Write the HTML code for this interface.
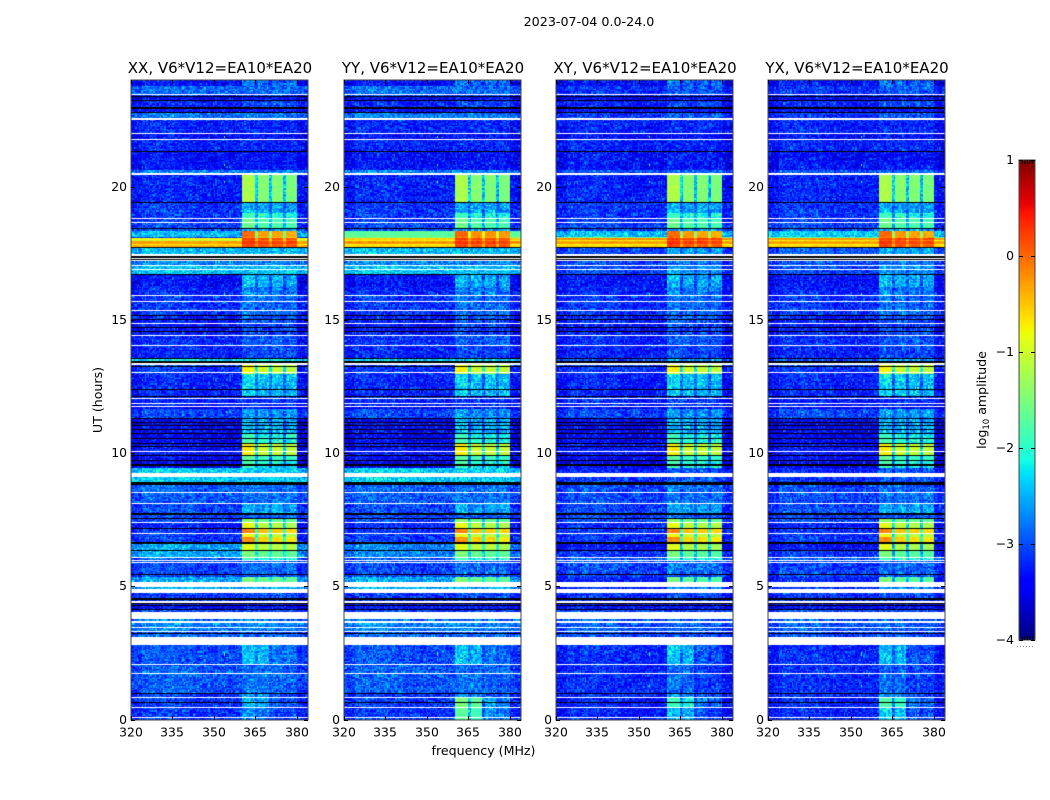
<!DOCTYPE html>
<html>
<head>
<meta charset="utf-8">
<title>2023-07-04 0.0-24.0</title>
<style>
html,body{margin:0;padding:0;background:#fff;width:1050px;height:800px;overflow:hidden}
#figure{position:relative;width:1050px;height:800px}
canvas{position:absolute;display:block}
svg{position:absolute;left:0;top:0}
text{font-family:"DejaVu Sans","Liberation Sans",sans-serif;fill:#000}
.tick{font-size:12.4px}
.title{font-size:15px;text-anchor:middle}
.label{font-size:12.6px;text-anchor:middle}
</style>
</head>
<body>
<div id="figure">
<canvas id="panel0" width="177" height="640" style="left:131px;top:80px"></canvas>
<canvas id="panel1" width="177" height="640" style="left:344px;top:80px"></canvas>
<canvas id="panel2" width="177" height="640" style="left:556px;top:80px"></canvas>
<canvas id="panel3" width="177" height="640" style="left:768px;top:80px"></canvas>
<canvas id="cbar" width="16" height="480" style="left:1019px;top:160px"></canvas>
<svg id="overlay" width="1050" height="800">
<text x="589" y="26" style="font-size:12.7px;text-anchor:middle">2023-07-04 0.0-24.0</text>
<text x="483.5" y="755" class="label">frequency (MHz)</text>
<text class="label" transform="translate(102,400) rotate(-90)">UT (hours)</text>
<text class="label" transform="translate(986,400) rotate(-90)">log<tspan dy="3" style="font-size:8.5px">10</tspan><tspan dy="-3"> amplitude</tspan></text>
</svg>
</div>
<script>
const W = null, K = -9;
const panelTitles = ["XX, V6*V12=EA10*EA20","YY, V6*V12=EA10*EA20","XY, V6*V12=EA10*EA20","YX, V6*V12=EA10*EA20"];
const panelKeys = ["xx","yy","xy","yx"];
const xTicks = [320,335,350,365,380];
const yTicks = [0,5,10,15,20];
const colorTicks = [-4,-3,-2,-1,0,1];

// top hour of band, then log10 amplitude in XX, YY, XY, YX, then level of the 360-380 MHz blocks.
// Two-element rows are blank (W) or black (K) time ranges in every panel.
const timeBands = [
[24,-3.3,-3.3,-3.3,-3.3,-2.5],[23.77,-2.8,-2.8,-3.1,-3.1,-2.6],[23.47,W],[23.44,-3,-3,-3.1,-3.1,-2.9],[23.4,K],[23.36,-3.4,-3.4,-3.4,-3.4,-3],
[23.25,K],[23.21,-3.2,-3.2,-3.2,-3.2,-2.7],[22.99,K],[22.91,-3.3,-3.3,-3.3,-3.3,-3],[22.8,K],[22.76,-2.75,-2.75,-3.1,-3.1,-2.6],
[22.56,W],[22.51,-3.2,-3.2,-3.2,-3.2,-2.9],[22.01,W],[21.97,-3.3,-3.3,-3.3,-3.3,-3],[21.79,W],[21.75,-3.2,-3.2,-3.2,-3.2,-2.9],
[21.34,K],[21.3,-3.3,-3.3,-3.3,-3.3,-3],[20.62,-2.7,-2.7,-2.95,-2.95,-2.5],[20.51,W],[20.45,-3.2,-3.2,-3.2,-3.2,-1.2],
[19.42,K],[19.37,-3.1,-3.1,-3.1,-3.1,-2.2],[19.02,K],[19,-3.1,-3.1,-3.1,-3.1,-1.9],[18.81,W],[18.77,-3.1,-3.1,-3.1,-3.1,-1.6],
[18.68,W],[18.65,-3,-3,-3,-3,-1.6],[18.45,K],[18.4,-3,-3,-3,-3,-2.2],
[18.34,-2.5,-1.7,-2.5,-2.4,0],[18.12,-3,-1.5,-1.6,-1.8,-0.1],[18.07,-0.8,-0.55,-0.2,-0.25,0.25],[18,-1.1,-0.75,-0.75,-0.75,0.1],
[17.94,-0.3,-0.25,-0.3,-0.3,0.3],[17.85,-0.7,-0.75,-0.75,-0.75,0.15],[17.8,-0.4,-0.6,-0.6,-0.6,0.2],[17.75,K],
[17.68,-2.5,-2.5,-3,-2.9,-2.2],[17.48,W],[17.38,K],[17.32,W],[17.27,K],[17.24,W],[17.2,-2.7,-2.7,-3,-3,-2.5],[17.05,W],
[17.01,-2.5,-2.5,-3,-3,-2.3],[16.92,W],[16.88,-2.45,-2.45,-3,-3,-2.3],[16.72,K],[16.68,-3.3,-3.3,-3.3,-3.3,-2.1],[16.25,W],
[16.23,-3.2,-3.2,-3.2,-3.2,-2.4],[15.93,W],[15.89,-3.1,-3.1,-3.1,-3.1,-2.5],[15.7,W],[15.68,-3.1,-3.1,-3.1,-3.1,-2.5],[15.36,W],
[15.34,-3.1,-3.1,-3.1,-3.1,-2.5],[15.17,K],[15.13,-3.2,-3.2,-3.2,-3.2,-2.6],[15.03,K],[14.99,-3.2,-3.2,-3.2,-3.2,-2.6],[14.89,W],
[14.85,-3.3,-3.3,-3.3,-3.3,-2.7],[14.74,K],[14.71,-3.3,-3.3,-3.3,-3.3,-2.7],[14.59,K],[14.56,W],[14.53,-3.2,-3.2,-3.2,-3.2,-2.7],
[14.44,W],[14.41,K],[14.38,-3.15,-3.15,-3.15,-3.15,-2.6],[14.06,W],[14.02,-3.2,-3.2,-3.2,-3.2,-2.7],[13.56,K],
[13.52,-2.3,-2.4,-3,-3,-2.2],[13.44,K],[13.38,W],[13.31,-3,-3,-3,-3,-0.75],[13.25,K],[13.22,-3.1,-3.1,-3.1,-3.1,-0.75],
[13.05,W],[13.02,-3.1,-3.1,-3.1,-3.1,-0.85],[12.97,-3.2,-3.2,-3.2,-3.2,-2],[12.57,W],[12.54,-3.2,-3.2,-3.2,-3.2,-2],[12.42,K],
[12.38,-3.2,-3.2,-3.2,-3.2,-2],[12.15,K],[12.12,-3.2,-3.2,-3.2,-3.2,-2.8],[12.06,W],[12.02,-3.2,-3.2,-3.2,-3.2,-2.8],[11.87,W],
[11.83,-3.2,-3.2,-3.2,-3.2,-2.8],[11.76,W],[11.72,-3.4,-3.4,-3.4,-3.4,-3],[11.66,-3,-3,-3,-3,-2.3],[11.32,K],
[11.28,-3.4,-3.4,-3.4,-3.4,-2.1],[11.17,K],[11.13,-3.4,-3.4,-3.4,-3.4,-2.1],[11.04,K],[11,-3.4,-3.4,-3.4,-3.4,-2.1],[10.89,K],
[10.85,-3.4,-3.4,-3.4,-3.4,-2.1],[10.76,K],[10.72,-3.4,-3.4,-3.4,-3.4,-1.9],[10.57,K],[10.53,-3.4,-3.4,-3.4,-3.4,-1.8],[10.38,K],
[10.34,-3.3,-3.3,-3.3,-3.3,-0.75],[10.25,K],[10.23,-3.3,-3.3,-3.3,-3.3,-0.7],[10.07,W],[10.03,-3.3,-3.3,-3.3,-3.3,-0.75],[9.93,K],
[9.89,-3.4,-3.4,-3.4,-3.4,-1.7],[9.74,K],[9.7,-3.4,-3.4,-3.4,-3.4,-1.8],[9.57,K],[9.53,-3.4,-3.4,-3.4,-3.4,-1.9],[9.44,K],
[9.42,-2.4,-2.4,-3.2,-3.2,-2.6],[9.25,W],[9.09,-2.4,-2.4,-3.1,-3.1,-2.6],[8.91,K],[8.8,-2.85,-2.85,-3,-3,-2.5],[8.53,W],
[8.5,-2.9,-2.9,-3,-3,-2.5],[8.12,W],[8.08,-3,-3,-3,-3,-2.2],[7.75,K],[7.66,-3,-3,-3,-3,-2.6],[7.58,K],[7.54,-3,-3,-3,-3,-1.4],
[7.42,W],[7.38,-3.2,-3.2,-3.2,-3.2,-0.85],[7.19,K],[7.15,-3.1,-3.1,-3.1,-3.1,-0.15],[7.01,W],[6.97,-3.1,-3.1,-3.1,-3.1,-0.8],
[6.86,-3.1,-3.1,-3.1,-3.1,-0.25],[6.65,K],[6.59,-2.6,-2.7,-3.3,-3.3,-0.9],[6.37,K],[6.33,-2.6,-2.7,-3.1,-3.1,-1.5],[6.11,W],
[6.07,-2.9,-2.9,-2.9,-2.9,-1.9],[5.98,W],[5.94,-3,-3,-3,-3,-2.6],[5.91,W],[5.87,-3,-3,-3,-3,-2.5],[5.46,K],[5.42,-3,-3,-3,-3,-2.7],
[5.33,-2.6,-2.6,-3.2,-3.2,-1.5],[5.17,W],[4.98,-2.55,-2.55,-3.1,-3.1,-2.3],[4.89,W],[4.76,-3.1,-3.1,-3.1,-3.1,-2.7],[4.56,K],
[4.5,-3.1,-3.1,-3.1,-3.1,-2.8],[4.43,W],[4.39,K],[4.35,-3.3,-3.3,-3.3,-3.3,-3],[4.31,K],[4.26,-3.3,-3.3,-3.3,-3.3,-3],[4.16,K],
[4.1,-3,-3,-3,-3,-2.8],[4.05,W],[3.78,-2.8,-2.8,-2.9,-2.9,-2.7],[3.68,W],[3.64,-2.7,-2.7,-2.9,-2.9,-2.6],[3.49,W],
[3.45,-2.7,-2.7,-2.9,-2.9,-2.6],[3.31,W],[3.28,-3,-3,-3,-3,-2.8],[3.24,K],[3.2,-2.8,-2.8,-3,-3,-2.7],[3.09,W],
[2.81,-2.95,-2.95,-3.15,-3.15,-2.1],[2.08,W],[2.04,-2.9,-2.9,-3.15,-3.15,-2.55],[1.74,W],[1.7,-2.9,-2.9,-3.15,-3.15,-2.5],[0.99,K],
[0.96,-3.1,-3.1,-3.15,-3.15,-2.3],[0.85,W],[0.81,-3.1,-3.1,-3.2,-3.2,-1.5],[0.66,K],[0.62,-3.1,-3.1,-3.2,-3.2,-1.5],[0.47,W],
[0.43,-3.1,-3.1,-3.2,-3.2,-1.7],[0.08,W],[0.05,-3.1,-3.1,-3.2,-3.2,-1.7],[0]
];

// share of the block level reached in each 1 MHz channel, 320 to 383 MHz
const blockMask = [0,0,0,0,0,0,0,0,0,0,0,0,0,0,0,0,0,0,0,0,0,0,0,0,0,0,0,0,0,0,0,0,0,0,0,0,0,0,0,0,
1,1,1,1,1,0.42,0.89,0.89,0.89,0.89,0.42,0.87,0.87,0.87,0.87,0.4,0.85,0.85,0.85,0.85,0,0,0,0];
// quiet-sky spectral shape in each channel
const baseShape = [-0.05,-0.05,-0.05,-0.05,0.12,0.12,0.12,0.12,0.12,0.12,0.12,0.12,0.12,0.12,0.12,0.12,0.1,0.1,0.1,0.1,0.08,0.08,0.06,0.02,0.02,0.02,0.02,0.02,0.02,0.02,0.02,0.02,0.02,0.02,0.02,0.02,0.02,0.02,0.02,0.02,
0.05,0.05,0.05,0.05,0.05,0.05,0.05,0.05,0.05,0.05,0.05,0.05,0.05,0.05,0.05,0.05,0.05,0.05,0.05,0.05,-0.08,-0.1,-0.1,-0.1];
// relative strength of the four blocks during the first 2.8 hours
const earlyBlockWeight = [1,1,0.4,0.3];
// extra block level in each polarisation for the first 0.85 hours
const earlyPanelOffset = [-0.7,0,-0.4,-0.3];
// speckle offsets in log10 amplitude, tiled across the cells
const speckle = [.12,-.31,.44,-.08,-.42,.27,.05,-.19,.61,-.36,.18,-.05,-.27,.33,-.48,.09,.22,-.14,-.39,.52,.02,-.23,.15,-.33,.38,-.11,.07,-.45,.29,-.02,.71,-.29,-.16,.24,-.41,.11,.35,-.07,-.25,.19,-.37,.47,-.12,.03,-.34,.26,.56,-.21,-.44,.13,-.04,.31,-.28,.08,-.17,.42,-.38,.21,-.09,.16,-.30];
// interference spikes near 352 MHz, in hours
const spikeHours = [2.55,2.45,1.3,21.9,20.85,20.2,16.0,15.7,14.1];

const channels = 64, freqMin = 320, freqMax = 384, hourMax = 24;
const axWidth = 177, axTop = 80, axHeight = 639.5, rowPx = 1.34;
const colorMin = -4, colorMax = 1;
const quietOffset = -0.1, weakBlockOffset = -0.3;

function panelLeft(i){ return Math.ceil(131 + i * 212.3); }
function xScale(f){ return (f - freqMin) / (freqMax - freqMin) * axWidth; }
function yScale(h){ return (hourMax - h) / hourMax * axHeight; }
function interp(t, xs, ys){
  for (let i = 1; i < xs.length; i++) {
    if (t <= xs[i]) return ys[i-1] + (ys[i]-ys[i-1]) * (t-xs[i-1]) / (xs[i]-xs[i-1]);
  }
  return ys[ys.length-1];
}
function jet(v){
  const t = Math.max(0, Math.min(1, (v - colorMin) / (colorMax - colorMin)));
  const r = interp(t,[0,.35,.66,.89,1],[0,0,1,1,.5]);
  const g = interp(t,[0,.125,.375,.64,.91,1],[0,0,1,1,0,0]);
  const b = interp(t,[0,.11,.34,.65,1],[.5,1,1,0,0]);
  return "rgb("+Math.round(r*255)+","+Math.round(g*255)+","+Math.round(b*255)+")";
}

function cellLevel(band, panel, ch, sub, row){
  let base = band[1 + panel];
  if (base < -2.2) base += baseShape[ch] + (base < -2.6 ? quietOffset : 0);
  let block = band[5];
  let mask = blockMask[ch];
  if (band[0] < 2.9 && ch >= 40 && ch < 60) mask *= earlyBlockWeight[Math.floor((ch - 40) / 5)];
  if (band[0] < 0.85) block += earlyPanelOffset[panel];
  if (block < -1.9) block += weakBlockOffset;
  let v = base;
  if (block > base) v = base + mask * (block - base);
  const ci = ch * 2 + sub;
  const s = speckle[(ci*ci*5 + ci*23 + row*row*7 + row*41 + ci*row*3 + panel*13) % speckle.length];
  return v + s * (v < -2.0 ? 0.8 : 0.22);
}

function drawPanel(panel){
  const ctx = document.getElementById("panel" + panel).getContext("2d");
  for (let b = 0; b + 1 < timeBands.length; b++) {
    const band = timeBands[b];
    const y0 = Math.round(yScale(band[0]));
    const y1 = Math.max(y0 + 1, Math.round(yScale(timeBands[b+1][0])));
    if (band.length === 2) {
      if (band[1] === K) { ctx.fillStyle = "#000"; ctx.fillRect(0, y0, axWidth, y1 - y0); }
      continue;
    }
    let y = y0;
    while (y < y1) {
      const row = Math.floor(y / rowPx);
      let next = Math.min(y1, Math.round((row + 1) * rowPx));
      if (next <= y) next = y + 1;
      for (let ch = 0; ch < channels; ch++) {
        for (let sub = 0; sub < 2; sub++) {
          const xa = Math.round(xScale(freqMin + ch + sub / 2));
          const xb = Math.round(xScale(freqMin + ch + (sub + 1) / 2));
          ctx.fillStyle = jet(cellLevel(band, panel, ch, sub, row));
          ctx.fillRect(xa, y, xb - xa, next - y);
        }
      }
      y = next;
    }
  }
  ctx.fillStyle = jet(-1.9);
  spikeHours.forEach(function(h){
    ctx.fillRect(Math.round(xScale(353.6)), Math.round(yScale(h)), 1, 2);
  });
}

function drawColorbar(){
  const ctx = document.getElementById("cbar").getContext("2d");
  for (let y = 0; y < 480; y++) {
    ctx.fillStyle = jet(colorMax - (y + 0.5) / 480 * (colorMax - colorMin));
    ctx.fillRect(0, y, 16, 1);
  }
}

const NS = "http://www.w3.org/2000/svg";
const overlay = document.getElementById("overlay");
function svgEl(tag, attrs, name){
  const el = document.createElementNS(NS, tag);
  for (const k in attrs) el.setAttribute(k, attrs[k]);
  
  
  overlay.appendChild(el);
  return el;
}
function tickMark(x1, y1, x2, y2, name){
  svgEl("line", {x1:x1, y1:y1, x2:x2, y2:y2, stroke:"#000", "stroke-width":1}, name);
}

for (let p = 0; p < panelTitles.length; p++) {
  drawPanel(p);
  const left = panelLeft(p), key = panelKeys[p];
  svgEl("rect", {x:left, y:axTop, width:axWidth, height:640, fill:"none", stroke:"#444", "stroke-width":1}, key + "-axes-frame");
  const title = svgEl("text", {x:left + axWidth/2 + 0.5, y:73, "class":"title"}, key + "-panel-title");
  title.textContent = panelTitles[p];
  xTicks.forEach(function(f){
    const x = Math.round(left + xScale(f)) + 0.5;
    tickMark(x, axTop + 640, x, axTop + 636, key + "-x-tick-" + f);
    tickMark(x, axTop, x, axTop + 4, key + "-x-tick-top-" + f);
    const t = svgEl("text", {x:x - 0.5, y:736.5, "class":"tick", "text-anchor":"middle"}, key + "-x-tick-label-" + f);
    t.textContent = f;
  });
  yTicks.forEach(function(h){
    const y = Math.round(axTop + yScale(h)) + 0.5;
    tickMark(left, y, left + 4, y, key + "-y-tick-" + h);
    tickMark(left + axWidth, y, left + axWidth - 4, y, key + "-y-tick-right-" + h);
    const t = svgEl("text", {x:left - 4, y:y + 3.5, "class":"tick", "text-anchor":"end"}, key + "-y-tick-label-" + h);
    t.textContent = h;
  });
}

drawColorbar();
svgEl("rect", {x:1019, y:160, width:16, height:480, fill:"none", stroke:"#444", "stroke-width":1}, "colorbar-frame");
colorTicks.forEach(function(v){
  const y = Math.round(160 + (colorMax - v) / (colorMax - colorMin) * 480) + 0.5;
  tickMark(1019, y, 1023, y, "colorbar-tick-left-" + v);
  tickMark(1035, y, 1031, y, "colorbar-tick-right-" + v);
  const t = svgEl("text", {x:1014, y:y + 3.5, "class":"tick", "text-anchor":"end"}, "colorbar-tick-label-" + v);
  t.textContent = String(v).replace("-", "\u2212");
});
for (let i = 0; i < 5; i++) {
  const x = 1022.5 + i * 2.5;
  tickMark(x, 160, x, 164, "colorbar-minor-tick-top");
  tickMark(x, 640, x, 636, "colorbar-minor-tick-bottom");
}
svgEl("line", {x1:1017, y1:646.5, x2:1035, y2:646.5, stroke:"#888", "stroke-width":1, "stroke-dasharray":"1 2"}, "colorbar-dotted-offset");
</script>
</body>
</html>
